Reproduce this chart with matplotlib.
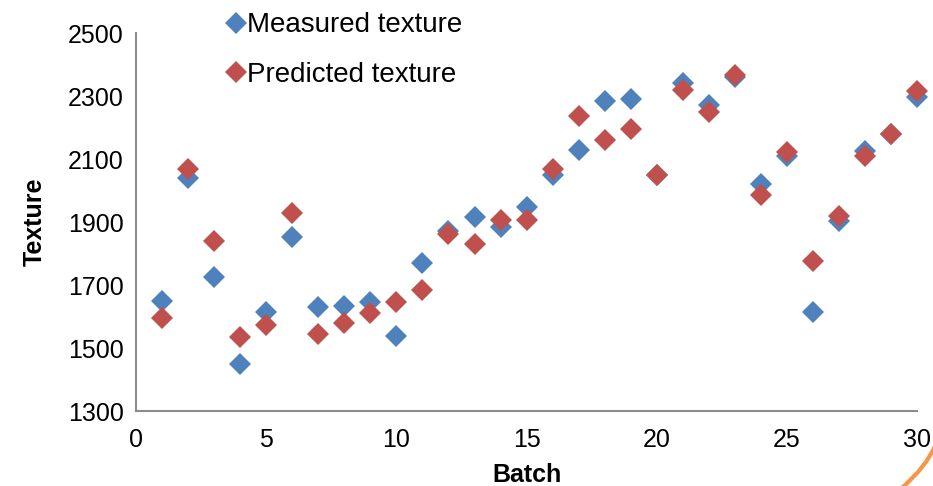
import matplotlib
matplotlib.use("Agg")
import matplotlib.pyplot as plt
from matplotlib.path import Path
from matplotlib.patches import PathPatch

plt.rcParams['font.family'] = ['Liberation Sans', 'DejaVu Sans']

# Data
batch = list(range(1, 31))
measured = [1650, 2040, 1725, 1450, 1615, 1852, 1630, 1635, 1645, 1540,
            1770, 1872, 1915, 1885, 1948, 2050, 2130, 2285, 2290, 2048,
            2342, 2272, 2362, 2020, 2110, 1614, 1903, 2125, 2180, 2297]
predicted = [1597, 2068, 1840, 1535, 1572, 1930, 1545, 1580, 1610, 1648,
             1683, 1862, 1830, 1908, 1908, 2070, 2237, 2162, 2195, 2048,
             2318, 2250, 2367, 1987, 2122, 1776, 1920, 2110, 2180, 2315]
x_ticks = [0, 5, 10, 15, 20, 25, 30]
y_ticks = [1300, 1500, 1700, 1900, 2100, 2300, 2500]

blue = '#4F81BD'
red = '#C0504D'

fig = plt.figure(figsize=(9.33, 4.86), dpi=100)
ax = fig.add_axes([0.1458, 0.154, 0.8372, 0.778])

ax.plot(batch, measured, linestyle='none', marker='D', markersize=11,
        color=blue, markeredgewidth=0, label='Measured texture', clip_on=False)
ax.plot(batch, predicted, linestyle='none', marker='D', markersize=11,
        color=red, markeredgewidth=0, label='Predicted texture', clip_on=False)

ax.set_xlim(0, 30)
ax.set_ylim(1300, 2500)
ax.set_xticks(x_ticks)
ax.set_yticks(y_ticks)
ax.tick_params(length=0, labelsize=18)
ax.tick_params(axis='x', pad=12)
ax.tick_params(axis='y', pad=9)

for side in ['top', 'right']:
    ax.spines[side].set_visible(False)
for side in ['left', 'bottom']:
    ax.spines[side].set_color('#8C8C8C')
    ax.spines[side].set_linewidth(1.5)

ax.set_xlabel('Batch', fontsize=18, fontweight='bold', labelpad=8)
ax.set_ylabel('Texture', fontsize=18, fontweight='bold', labelpad=15)

ax.legend(loc='upper left', bbox_to_anchor=(0.226, 1.009),
          bbox_transform=fig.transFigure, frameon=False, fontsize=20,
          handlelength=0.6, handletextpad=0.1, labelspacing=0.85,
          borderpad=0.1)

# orange decorative arc in bottom right corner
verts = [(1.002, 0.082), (0.993, 0.04), (0.966, -0.005)]
arc = Path(verts, [Path.MOVETO, Path.CURVE3, Path.CURVE3])
fig.patches.append(PathPatch(arc, transform=fig.transFigure, fill=False,
                             edgecolor='#F79646', linewidth=3))

fig.savefig('out.png', dpi=100)
